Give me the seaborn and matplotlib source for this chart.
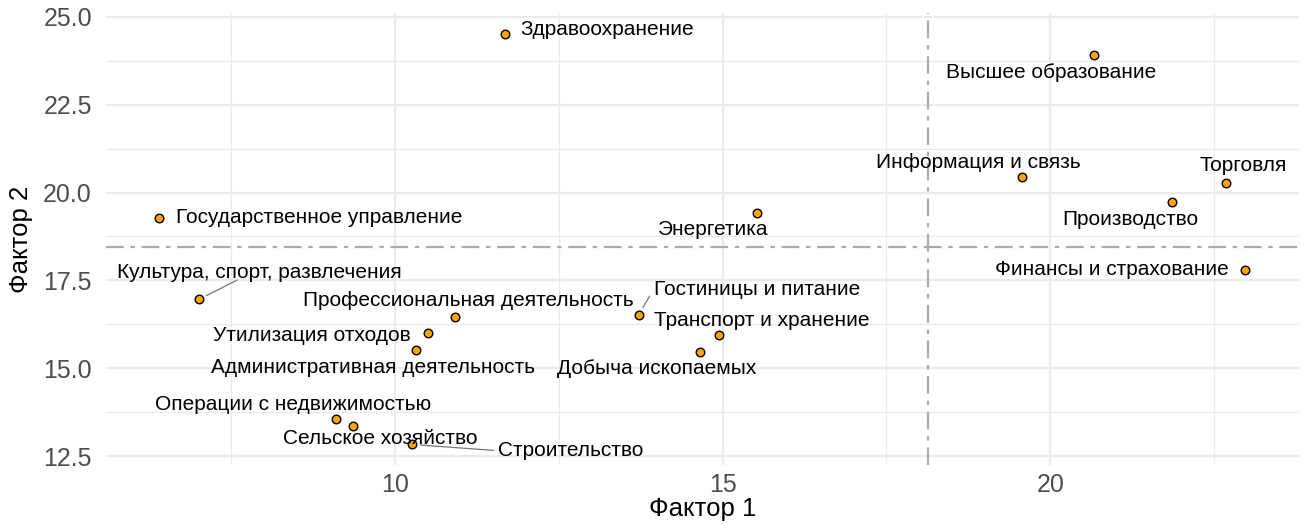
import pandas as pd
import matplotlib.pyplot as plt
import seaborn as sns
from matplotlib.ticker import MultipleLocator

# industries and factor scores
industries = ["Здравоохранение", "Высшее образование", "Информация и связь", "Торговля",
              "Производство", "Финансы и страхование", "Государственное управление",
              "Энергетика", "Культура, спорт, развлечения", "Утилизация отходов",
              "Административная деятельность", "Профессиональная деятельность",
              "Операции с недвижимостью", "Сельское хозяйство", "Строительство",
              "Гостиницы и питание", "Транспорт и хранение", "Добыча ископаемых"]
factor1 = [11.68, 20.67, 19.57, 22.68, 21.86, 22.97, 6.40, 15.53, 7.01, 10.50,
           10.32, 10.91, 9.10, 9.36, 10.26, 13.72, 14.94, 14.65]
factor2 = [24.52, 23.92, 20.45, 20.28, 19.72, 17.81, 19.29, 19.43, 16.96, 16.02,
           15.51, 16.45, 13.55, 13.35, 12.84, 16.53, 15.94, 15.48]
cut_x = 18.14
cut_y = 18.44

df = pd.DataFrame({"name": industries, "f1": factor1, "f2": factor2})

# label placement: offset in pixels (dx, dy up), horizontal alignment,
# and where the leader line meets the text box (None = no line)
label_pos = {
    "Здравоохранение": (15, 4, "left", None),
    "Высшее образование": (-43, -18, "center", None),
    "Информация и связь": (-44, 14, "center", None),
    "Торговля": (17, 17, "center", None),
    "Производство": (-42, -17, "center", None),
    "Финансы и страхование": (-16, 0, "right", None),
    "Государственное управление": (17, 0, "left", None),
    "Энергетика": (-44, -17, "center", None),
    "Культура, спорт, развлечения": (61, 27, "center", (0.42, 0.1)),
    "Утилизация отходов": (-17, -3, "right", None),
    "Административная деятельность": (-43, -17, "center", None),
    "Профессиональная деятельность": (14, 17, "center", None),
    "Операции с недвижимостью": (-43, 15, "center", None),
    "Сельское хозяйство": (27, -12, "center", None),
    "Строительство": (86, -6, "left", (-0.03, 0.5)),
    "Гостиницы и питание": (15, 25, "left", (-0.02, 0.15)),
    "Транспорт и хранение": (43, 15, "center", None),
    "Добыча ископаемых": (-43, -17, "center", None),
}

sns.set_theme(style="whitegrid")
plt.rcParams['font.family'] = ['Liberation Sans', 'DejaVu Sans']

fig = plt.figure(figsize=(13.06, 5.25), dpi=100)
ax = fig.add_axes([0.081, 0.114, 0.914, 0.861])

ax.axvline(cut_x, color="#ABABAB", linestyle=(0, (8, 3, 2, 3)), linewidth=1.6, zorder=1)
ax.axhline(cut_y, color="#ABABAB", linestyle=(0, (8, 3, 2, 3)), linewidth=1.6, zorder=1)

sns.scatterplot(data=df, x="f1", y="f2", color="#FFA500", edgecolor="black",
                linewidth=1, s=38, ax=ax, zorder=3)

for _, row in df.iterrows():
    dx, dy, ha, rel = label_pos[row["name"]]
    arrow = None
    if rel is not None:
        arrow = dict(arrowstyle="-", color="#777777", lw=0.9, relpos=rel,
                     patchA=None, shrinkA=0, shrinkB=6)
    ax.annotate(row["name"], (row["f1"], row["f2"]), xytext=(dx, dy),
                textcoords="offset pixels", ha=ha, va="center", fontsize=15,
                color="black", arrowprops=arrow)

ax.set_xlim(5.59, 23.8)
ax.set_ylim(12.25, 25.1)
ax.xaxis.set_major_locator(MultipleLocator(5))
ax.xaxis.set_minor_locator(MultipleLocator(2.5))
ax.yaxis.set_major_locator(MultipleLocator(2.5))
ax.yaxis.set_minor_locator(MultipleLocator(1.25))
ax.set_xticks([10, 15, 20])
ax.grid(which="major", color="#EBEBEB", linewidth=1.6)
ax.grid(which="minor", color="#EBEBEB", linewidth=1.0)
for s in ax.spines.values():
    s.set_visible(False)
ax.tick_params(axis="both", which="both", length=0, labelsize=18, labelcolor="#4D4D4D")
ax.tick_params(axis="y", pad=10)
ax.tick_params(axis="x", pad=6)
ax.set_xlabel("Фактор 1", fontsize=18.5, color="black", labelpad=0)
ax.set_ylabel("Фактор 2", fontsize=18.5, color="black", labelpad=7)

fig.savefig("out.png", dpi=100)
